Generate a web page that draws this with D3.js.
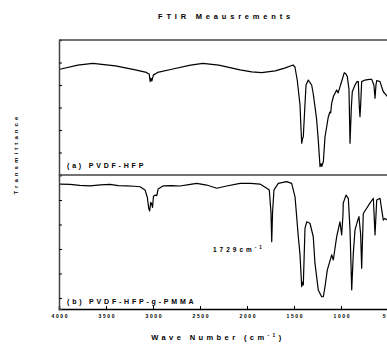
<!DOCTYPE html>
<html>
<head>
<meta charset="utf-8">
<script src="https://cdn.jsdelivr.net/npm/d3@7"></script>
<style>
  html, body { margin: 0; padding: 0; background: #fff; }
  svg { display: block; }
  text { font-family: "Liberation Sans", Arial, sans-serif; font-weight: bold; fill: #000; }
</style>
</head>
<body>
<svg id="chart" width="387" height="344"></svg>
<script>
// ---- data ----
const chartTitle = "FTIR Meausrements";
const xTickValues = [4000, 3500, 3000, 2500, 2000, 1500, 1000, 500];
const yTickValuesTop = [10, 20, 30, 40, 50];
const yTickValuesBottom = [10, 20, 30, 40, 50];

// (a) PVDF-HFP : wavenumber (cm-1) and transmittance (arb.)
const waveA = [3990, 3800, 3640, 3400, 3200, 3070, 3040, 3030, 3022, 3012, 2995, 2950, 2800, 2600, 2470, 2300, 2074, 1950, 1844, 1700, 1600, 1510, 1490, 1465, 1436, 1425, 1418, 1410, 1401, 1385, 1372, 1348, 1312, 1295, 1277, 1260, 1242, 1230, 1223, 1212, 1205, 1188, 1170, 1150, 1135, 1118, 1110, 1099, 1080, 1046, 1030, 1011, 990, 965, 945, 933, 915, 904, 890, 880, 851, 830, 816, 805, 798, 790, 780, 745, 700, 673, 650, 638, 628, 620, 585, 550, 521, 500];
const transA = [47.0, 48.8, 49.6, 48.5, 46.8, 45.6, 44.8, 41.5, 43.0, 41.8, 44.5, 45.6, 47.0, 48.8, 49.6, 48.8, 46.7, 45.8, 45.5, 46.3, 47.5, 48.9, 48.0, 42.0, 31.1, 20.0, 14.1, 16.0, 17.0, 30.0, 40.0, 42.2, 40.0, 36.0, 30.4, 25.0, 15.6, 8.0, 3.7, 5.0, 3.8, 5.9, 17.0, 22.0, 25.9, 28.0, 27.6, 31.9, 35.0, 37.8, 36.5, 39.2, 42.0, 45.5, 44.8, 43.7, 38.0, 14.1, 30.0, 37.0, 40.0, 41.5, 41.5, 30.0, 25.9, 32.0, 41.5, 42.2, 42.5, 42.5, 40.0, 34.1, 40.0, 42.0, 41.5, 37.0, 35.6, 34.5];

// (b) PVDF-HFP-g-PMMA
const waveB = [3989, 3883, 3780, 3670, 3560, 3457, 3370, 3280, 3200, 3138, 3085, 3060, 3045, 3035, 3025, 3015, 3005, 2995, 2975, 2960, 2945, 2890, 2800, 2713, 2620, 2535, 2429, 2322, 2216, 2074, 1960, 1862, 1790, 1763, 1745, 1737, 1728, 1713, 1667, 1578, 1525, 1489, 1454, 1436, 1418, 1410, 1401, 1383, 1365, 1330, 1295, 1277, 1242, 1206, 1188, 1170, 1146, 1099, 1082, 1046, 1011, 993, 979, 976, 947, 922, 904, 886, 869, 851, 827, 809, 791, 780, 763, 692, 656, 638, 620, 585, 550, 532, 511];
const transB = [56.5, 56.4, 56.0, 55.8, 56.2, 56.4, 55.9, 55.8, 55.6, 55.4, 54.1, 51.0, 46.5, 45.5, 49.0, 48.5, 47.0, 51.5, 52.0, 51.8, 54.5, 55.8, 55.9, 55.7, 56.3, 56.8, 56.1, 54.8, 55.7, 56.8, 56.8, 56.5, 54.8, 54.1, 45.0, 33.0, 45.0, 54.1, 56.8, 57.5, 56.8, 51.3, 35.0, 27.6, 14.6, 16.5, 15.3, 38.4, 41.1, 40.5, 35.0, 24.2, 13.3, 10.5, 10.5, 14.6, 21.4, 27.6, 25.5, 35.0, 41.1, 35.7, 43.9, 48.7, 52.0, 50.7, 37.8, 13.3, 28.2, 37.8, 41.1, 43.2, 36.0, 22.1, 44.5, 48.7, 50.7, 35.7, 50.0, 50.7, 41.8, 42.5, 41.8];

const labelA = "(a) PVDF-HFP";
const labelB = "(b) PVDF-HFP-g-PMMA";
const annotation = "1729cm";

// ---- layout ----
const svg = d3.select("#chart");
const padL = 59, padR = 388, padT = 40, padMid = 175, padB = 309;

const x = d3.scaleLinear().domain([4000, 500]).range([padL, padR]);
const yTop = d3.scaleLinear().domain([0, 60]).range([padMid, padT]);
const yBot = d3.scaleLinear().domain([5.5, 60.2]).range([padB, padMid]);

const frameColor = "#444";

// spectra
const lineTop = d3.line().x((d, i) => x(waveA[i])).y((d, i) => yTop(transA[i]));
const lineBot = d3.line().x((d, i) => x(waveB[i])).y((d, i) => yBot(transB[i]));

svg.append("path").attr("d", lineTop(waveA))
  .attr("fill", "none").attr("stroke", "#000").attr("stroke-width", 1.2).attr("stroke-linejoin", "round");
svg.append("path").attr("d", lineBot(waveB))
  .attr("fill", "none").attr("stroke", "#000").attr("stroke-width", 1.2).attr("stroke-linejoin", "round");

// frame lines
svg.append("line").attr("x1", padL).attr("x2", padR).attr("y1", padT).attr("y2", padT)
  .attr("stroke", frameColor).attr("stroke-width", 1.5);
svg.append("line").attr("x1", padL).attr("x2", padR).attr("y1", padMid).attr("y2", padMid)
  .attr("stroke", frameColor).attr("stroke-width", 1.5);

// x axis (ticks pointing inward/up)
const xAxis = d3.axisBottom(x).tickValues(xTickValues).tickSize(-3).tickPadding(5)
  .tickFormat(d3.format("d"));
const gx = svg.append("g").attr("transform", `translate(0,${padB})`).call(xAxis);
gx.select(".domain").attr("stroke", "#000").attr("stroke-width", 1.5);
gx.selectAll(".tick line").attr("stroke", "#000").attr("stroke-width", 1);
gx.selectAll(".tick text").attr("font-size", 5).attr("letter-spacing", 1.6)
  .attr("font-family", "Liberation Sans, Arial, sans-serif").attr("font-weight", "bold").attr("dx", 0.8);

// y axes (no labels, ticks inward)
const gyTop = svg.append("g").attr("transform", `translate(${padL},0)`)
  .call(d3.axisLeft(yTop).tickValues(yTickValuesTop).tickSize(-3).tickFormat(""));
const gyBot = svg.append("g").attr("transform", `translate(${padL},0)`)
  .call(d3.axisLeft(yBot).tickValues(yTickValuesBottom).tickSize(-3).tickFormat(""));
[gyTop, gyBot].forEach(g => {
  g.select(".domain").attr("stroke", frameColor).attr("stroke-width", 1.5);
  g.selectAll(".tick line").attr("stroke", "#000").attr("stroke-width", 1);
});

// title
svg.append("text").attr("x", 226).attr("y", 19).attr("text-anchor", "middle")
  .attr("font-size", 7.5).attr("letter-spacing", 3.8).text(chartTitle);

// x label
const xl = svg.append("text").attr("x", 218).attr("y", 340).attr("text-anchor", "middle")
  .attr("font-size", 7.5).attr("letter-spacing", 3.4);
xl.append("tspan").text("Wave Number (cm");
xl.append("tspan").attr("font-size", 5).attr("dy", -3).text("-1");
xl.append("tspan").attr("dy", 3).text(")");

// y label
svg.append("text").attr("transform", "translate(18,154) rotate(-90)").attr("text-anchor", "middle")
  .attr("font-size", 6).attr("letter-spacing", 3.1).text("Transmittance");

// panel labels
svg.append("text").attr("x", 67).attr("y", 168).attr("font-size", 7).attr("letter-spacing", 2.8).text(labelA);
svg.append("text").attr("x", 67).attr("y", 304).attr("font-size", 7).attr("letter-spacing", 2.8).text(labelB);

// annotation
const an = svg.append("text").attr("x", 213).attr("y", 252).attr("font-size", 6.5).attr("letter-spacing", 3);
an.append("tspan").text(annotation);
an.append("tspan").attr("font-size", 4.5).attr("dy", -3).text("-1");
</script>
</body>
</html>
